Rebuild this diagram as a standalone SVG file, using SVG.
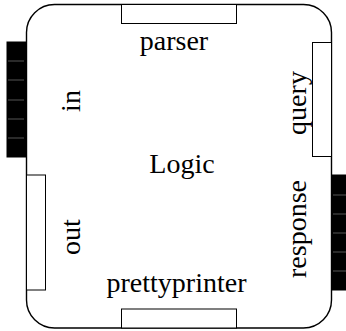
<svg xmlns="http://www.w3.org/2000/svg" width="346" height="331" viewBox="0 0 346 331">
  <style>
    .frame { fill: #fff; stroke: #000; stroke-width: 1.4; }
    .port { fill: #fff; stroke: #000; stroke-width: 1; }
    .port-filled { fill: #000; stroke: #000; stroke-width: 1; }
    .tick { stroke: #555; stroke-width: 1; }
    text { font-family: "Liberation Serif", "DejaVu Serif", serif; font-size: 28px; fill: #000; }
  </style>

  <!-- component body -->
  <g id="logic">
    <rect class="frame" x="26.5" y="4.5" width="305" height="323.5" rx="28" ry="28"/>
    <text x="182" y="173" text-anchor="middle">Logic</text>
  </g>

  <!-- ports on the top and bottom edges -->
  <g id="parser">
    <rect class="port" x="121.5" y="4.5" width="115" height="19"/>
    <text x="174" y="50" text-anchor="middle">parser</text>
  </g>
  <g id="prettyprinter">
    <rect class="port" x="121.5" y="309" width="115" height="19"/>
    <text x="176.5" y="292" text-anchor="middle">prettyprinter</text>
  </g>

  <!-- ports on the left edge -->
  <g id="in">
    <rect class="port-filled" x="7" y="42" width="19.5" height="115"/>
    <line class="tick" x1="8" y1="61" x2="24" y2="61"/>
    <line class="tick" x1="8" y1="80" x2="24" y2="80"/>
    <line class="tick" x1="8" y1="100" x2="24" y2="100"/>
    <line class="tick" x1="8" y1="119" x2="24" y2="119"/>
    <line class="tick" x1="8" y1="138" x2="24" y2="138"/>
    <text transform="translate(80,101) rotate(-90)" text-anchor="middle">in</text>
  </g>
  <g id="out">
    <rect class="port" x="26.5" y="175" width="19" height="115"/>
    <text transform="translate(80,237) rotate(-90)" text-anchor="middle">out</text>
  </g>

  <!-- ports on the right edge -->
  <g id="query">
    <rect class="port" x="312.5" y="42.5" width="19" height="114"/>
    <text transform="translate(306,103) rotate(-90)" text-anchor="middle">query</text>
  </g>
  <g id="response">
    <rect class="port-filled" x="331.5" y="175" width="20" height="115"/>
    <line class="tick" x1="333" y1="195" x2="346" y2="195"/>
    <line class="tick" x1="333" y1="214" x2="346" y2="214"/>
    <line class="tick" x1="333" y1="233" x2="346" y2="233"/>
    <line class="tick" x1="333" y1="252" x2="346" y2="252"/>
    <line class="tick" x1="333" y1="271" x2="346" y2="271"/>
    <text transform="translate(306,229) rotate(-90)" text-anchor="middle">response</text>
  </g>

  <g id="connectors"/>
</svg>
